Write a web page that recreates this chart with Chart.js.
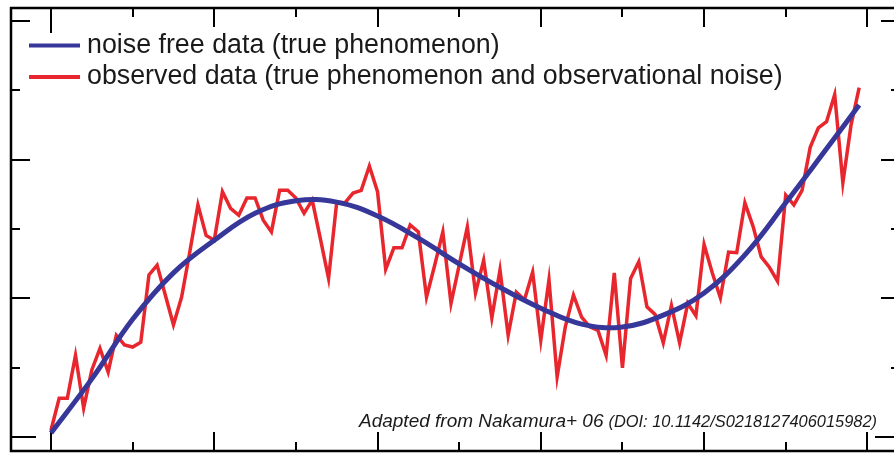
<!DOCTYPE html>
<html>
<head>
<meta charset="utf-8">
<script src="https://cdn.jsdelivr.net/npm/chart.js@4.4.0/dist/chart.umd.min.js"></script>
<style>
html, body { margin: 0; padding: 0; background: #fff; overflow: hidden; }
#wrap { width: 904px; height: 455px; }
</style>
</head>
<body>
<div id="wrap"><canvas id="chart" width="904" height="455"></canvas></div>
<script>
// tick marks only, no labels
const xTickValues = [0, 1, 2, 3, 4, 5, 6, 7, 8, 9, 10];
const yTickValues = [0, 1, 2, 3, 4, 5, 6];

// observation times: one sample every 0.1
const obsTimes = Array.from({ length: 100 }, (_, i) => i / 10);
const observed = [
    0.10, 0.56, 0.56, 1.18, 0.42, 0.97, 1.28, 0.94, 1.47, 1.33,
    1.30, 1.37, 2.34, 2.48, 2.05, 1.62, 2.02, 2.67, 3.35, 2.91,
    2.84, 3.54, 3.30, 3.20, 3.45, 3.45, 3.13, 2.96, 3.56, 3.56,
    3.45, 3.23, 3.42, 2.86, 2.29, 3.39, 3.38, 3.52, 3.56, 3.91,
    3.54, 2.42, 2.73, 2.73, 3.06, 2.96, 2.02, 2.48, 2.96, 1.93,
    2.48, 3.03, 2.08, 2.55, 1.72, 2.41, 1.47, 2.09, 1.98, 2.38,
    1.40, 2.27, 0.87, 1.59, 2.05, 1.73, 1.59, 1.54, 1.18, 2.37,
    1.00, 2.29, 2.53, 1.88, 1.77, 1.36, 1.90, 1.36, 1.93, 1.75,
    2.78, 2.37, 2.01, 2.67, 2.66, 3.38, 3.04, 2.60, 2.45, 2.25,
    3.49, 3.35, 3.56, 4.18, 4.46, 4.55, 4.94, 3.67, 4.50, 5.04
];

// noise free curve (read every 0.5)
const trueTimes = [0, 0.5, 1, 1.5, 2, 2.5, 3, 3.5, 4, 4.5, 5, 5.5, 6, 6.5, 7, 7.5, 8, 8.5, 9, 9.5, 9.9];
const trueValues = [0.06, 0.84, 1.70, 2.37, 2.84, 3.23, 3.41, 3.39, 3.19, 2.87, 2.50, 2.16, 1.86, 1.63, 1.59, 1.76, 2.08, 2.63, 3.38, 4.16, 4.79];

const legendLabels = [
    "noise free data (true phenomenon)",
    "observed data (true phenomenon and observational noise)"
];
const creditMain = "Adapted from Nakamura+ 06";
const creditDoi = "(DOI: 10.1142/S0218127406015982)";

const BLUE = "#37379a";
const RED = "#e8262d";

// frame with inward ticks on all four sides
const framePlugin = {
    id: "frame",
    beforeDatasetsDraw(chart) {
        const { ctx, chartArea: a, scales: { x, y } } = chart;
        ctx.save();
        ctx.strokeStyle = "#000";
        ctx.lineWidth = 2;
        ctx.beginPath();
        x.ticks.forEach(t => {
            const px = Math.round(x.getPixelForValue(t.value));
            const len = t.value === 0 ? 25 : (t.value % 2 === 0 ? 19 : 9);
            ctx.moveTo(px, a.top); ctx.lineTo(px, a.top + len);
            ctx.moveTo(px, a.bottom); ctx.lineTo(px, a.bottom - len);
        });
        y.ticks.forEach(t => {
            const py = Math.round(y.getPixelForValue(t.value));
            const len = t.value === 0 ? 25 : (t.value % 2 === 0 ? 19 : 9);
            ctx.moveTo(a.left, py); ctx.lineTo(a.left + len, py);
            ctx.moveTo(a.right, py); ctx.lineTo(a.right - len, py);
        });
        ctx.stroke();
        ctx.lineWidth = 2.5;
        ctx.strokeRect(a.left, a.top, a.right - a.left, a.bottom - a.top);
        ctx.restore();
    }
};

// legend and credit line
const textPlugin = {
    id: "texts",
    afterDraw(chart) {
        const ctx = chart.ctx;
        const colors = [chart.data.datasets[0].borderColor, chart.data.datasets[1].borderColor];
        ctx.save();
        ctx.lineWidth = 4;
        ctx.font = "26.8px 'Liberation Sans', Arial, sans-serif";
        ctx.fillStyle = "#1a1a1a";
        ctx.textBaseline = "alphabetic";
        const rows = [{ ly: 45.5, by: 53 }, { ly: 77, by: 84 }];
        legendLabels.forEach((label, i) => {
            ctx.strokeStyle = colors[i];
            ctx.beginPath();
            ctx.moveTo(29, rows[i].ly);
            ctx.lineTo(80, rows[i].ly);
            ctx.stroke();
            ctx.fillText(label, 87, rows[i].by);
        });
        ctx.textAlign = "right";
        ctx.font = "italic 16.4px 'Liberation Sans', Arial, sans-serif";
        ctx.fillText(creditDoi, 877, 427);
        const doiWidth = ctx.measureText(creditDoi).width;
        ctx.font = "italic 19px 'Liberation Sans', Arial, sans-serif";
        ctx.fillText(creditMain, 877 - doiWidth - 5, 427);
        ctx.restore();
    }
};

// axes take no room: the frame plugin draws the ticks
const hiddenAxis = {
    type: "linear",
    grid: { display: false },
    border: { display: false },
    ticks: { display: false },
    afterFit: s => { s.width = 0; s.height = 0; s.paddingLeft = 0; s.paddingRight = 0; s.paddingTop = 0; s.paddingBottom = 0; }
};

const ctx = document.getElementById("chart").getContext("2d");
const chart = new Chart(ctx, {
    type: "line",
    data: {
        datasets: [{
            label: legendLabels[0],
            data: trueTimes.map((t, i) => ({ x: t, y: trueValues[i] })),
            borderColor: BLUE,
            borderWidth: 5,
            tension: 0.4,
            pointRadius: 0
        }, {
            label: legendLabels[1],
            data: obsTimes.map((t, i) => ({ x: t, y: observed[i] })),
            borderColor: RED,
            borderWidth: 3.5,
            borderJoinStyle: "miter",
            tension: 0,
            pointRadius: 0
        }]
    },
    options: {
        responsive: false,
        animation: false,
        devicePixelRatio: 1,
        layout: { padding: { left: 11, top: 8, right: 4, bottom: 4 } },
        plugins: { legend: { display: false }, tooltip: { enabled: false } },
        scales: {
            x: Object.assign({}, hiddenAxis, {
                min: -0.49, max: 10.4,
                afterBuildTicks: s => { s.ticks = xTickValues.map(v => ({ value: v })); }
            }),
            y: Object.assign({}, hiddenAxis, {
                min: -0.2, max: 6.19,
                afterBuildTicks: s => { s.ticks = yTickValues.map(v => ({ value: v })); }
            })
        }
    },
    plugins: [framePlugin, textPlugin]
});
</script>
</body>
</html>
